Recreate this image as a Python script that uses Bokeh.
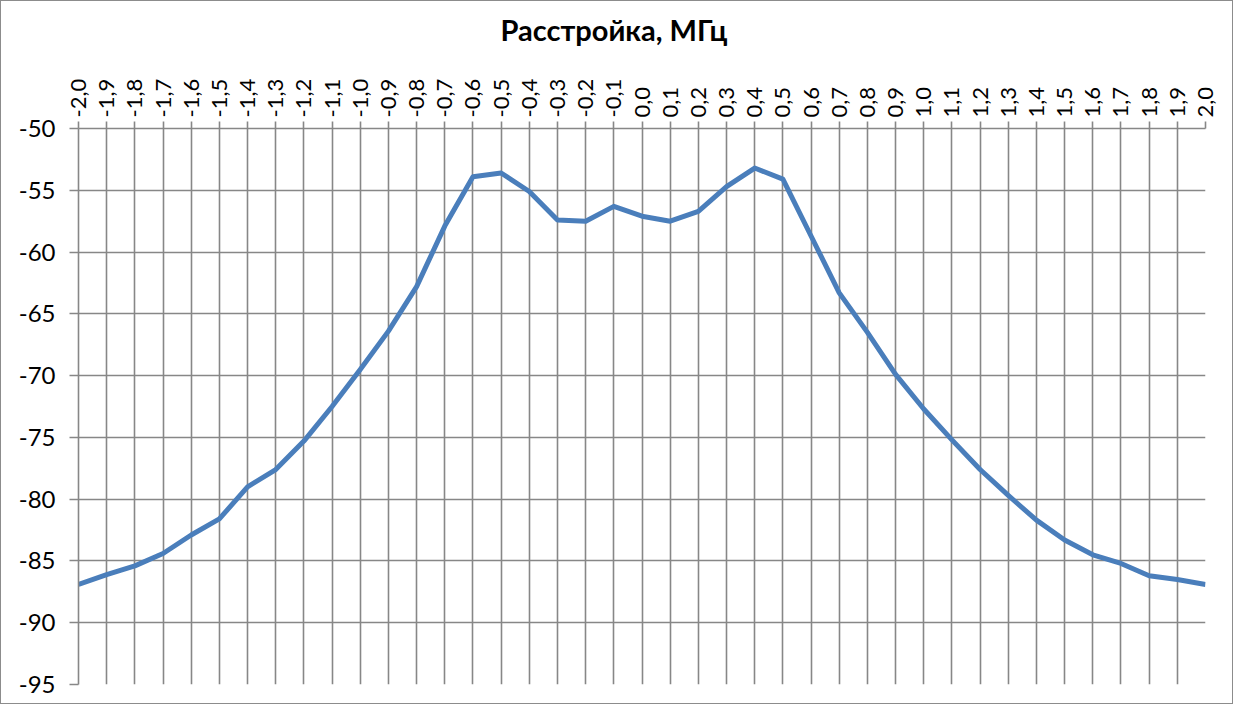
from bokeh.plotting import figure
from bokeh.models import FixedTicker, Range1d, Title
from bokeh.embed import file_html
from bokeh.resources import INLINE

# Detuning, MHz (x categories)
detuning = [-2.0, -1.9, -1.8, -1.7, -1.6, -1.5, -1.4, -1.3, -1.2, -1.1,
            -1.0, -0.9, -0.8, -0.7, -0.6, -0.5, -0.4, -0.3, -0.2, -0.1,
            0.0, 0.1, 0.2, 0.3, 0.4, 0.5, 0.6, 0.7, 0.8, 0.9,
            1.0, 1.1, 1.2, 1.3, 1.4, 1.5, 1.6, 1.7, 1.8, 1.9, 2.0]

x_labels = ["-2,0", "-1,9", "-1,8", "-1,7", "-1,6", "-1,5", "-1,4", "-1,3", "-1,2", "-1,1",
            "-1,0", "-0,9", "-0,8", "-0,7", "-0,6", "-0,5", "-0,4", "-0,3", "-0,2", "-0,1",
            "0,0", "0,1", "0,2", "0,3", "0,4", "0,5", "0,6", "0,7", "0,8", "0,9",
            "1,0", "1,1", "1,2", "1,3", "1,4", "1,5", "1,6", "1,7", "1,8", "1,9", "2,0"]

# Measured level
level = [-86.9, -86.1, -85.4, -84.4, -82.9, -81.6, -79.0, -77.6, -75.3, -72.5,
         -69.5, -66.4, -62.8, -57.9, -53.9, -53.6, -55.1, -57.4, -57.5, -56.3,
         -57.1, -57.5, -56.7, -54.7, -53.2, -54.1, -58.7, -63.3, -66.5, -69.9,
         -72.7, -75.2, -77.6, -79.7, -81.7, -83.3, -84.5, -85.2, -86.2, -86.5, -86.9]

y_ticks = [-95, -90, -85, -80, -75, -70, -65, -60, -55, -50]
y_labels = ["-95", "-90", "-85", "-80", "-75", "-70", "-65", "-60", "-55", "-50"]

title_text = "Расстройка, МГц"

GRID = "#878787"
FONT = "Lato"

p = figure(width=1233, height=704, output_backend="svg", toolbar_location=None,
           x_range=Range1d(detuning[0], detuning[-1]),
           y_range=Range1d(y_ticks[0], y_ticks[-1]),
           x_axis_location="above",
           min_border_left=77, min_border_right=29,
           min_border_top=127, min_border_bottom=21)
p.styles = {"border": "1px solid #8c8c8c"}
p.outline_line_color = None
p.background_fill_color = "white"
p.border_fill_color = "white"

# spacer between tick labels and the title
p.add_layout(Title(text=" ", text_font_size="1px", standoff=18), "above")

p.title.text = title_text
p.title.text_font = FONT
p.title.text_font_style = "bold"
p.title.text_font_size = "29px"
p.title.text_color = "black"
p.title.align = "left"
p.title.offset = 422
p.title.standoff = 15

p.line(detuning, level, line_color="#4a7ebb", line_width=5, line_join="round")

# grids
p.xgrid.ticker = FixedTicker(ticks=detuning)
p.ygrid.ticker = FixedTicker(ticks=y_ticks)
for g in (p.xgrid, p.ygrid):
    g.grid_line_color = GRID
    g.grid_line_width = 1.6
    g.grid_line_alpha = 1.0

xa = p.xaxis[0]
xa.ticker = FixedTicker(ticks=detuning)
xa.major_label_overrides = dict(zip(detuning, x_labels))
xa.major_label_orientation = "vertical"
xa.major_tick_out = 7
xa.major_tick_in = 0
xa.minor_tick_line_color = None
xa.axis_line_color = GRID
xa.axis_line_width = 1.6
xa.major_tick_line_color = GRID
xa.major_tick_line_width = 1.6
xa.major_label_text_font = FONT
xa.major_label_text_font_size = "22px"
xa.major_label_text_color = "black"
xa.major_label_standoff = 4

ya = p.yaxis[0]
ya.ticker = FixedTicker(ticks=y_ticks)
ya.major_label_overrides = dict(zip(y_ticks, y_labels))
ya.major_tick_out = 9
ya.major_tick_in = 0
ya.minor_tick_line_color = None
ya.axis_line_color = GRID
ya.axis_line_width = 1.6
ya.major_tick_line_color = GRID
ya.major_tick_line_width = 1.6
ya.major_label_text_font = FONT
ya.major_label_text_font_size = "24px"
ya.major_label_text_color = "black"
ya.major_label_standoff = 14

open("out.html", "w").write(file_html(p, INLINE))
